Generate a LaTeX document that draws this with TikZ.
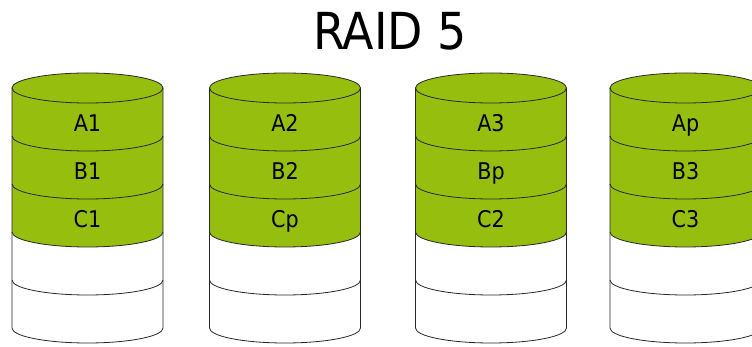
\documentclass[tikz,border=0pt]{standalone}
\usepackage{fontspec}
\setmainfont{DejaVu Sans Condensed}
\definecolor{diskgreen}{RGB}{150,190,14}
\definecolor{rimline}{RGB}{40,40,40}
\tikzset{
  rim/.style={draw=rimline, line width=0.8pt},
  blocklabel/.style={anchor=base, font=\fontsize{23}{23}\selectfont, text=black, inner sep=0pt},
  titletext/.style={anchor=base, font=\fontsize{51}{51}\selectfont, text=black, inner sep=0pt}
}
\begin{document}
\begin{tikzpicture}[x=1pt,y=1pt]
\useasboundingbox (0,0) rectangle (752,347);
\node[titletext] (title) at (390,297) {RAID 5};
% one disk per column: left edge, then the three block labels from top to bottom
\foreach \xl/\la/\lb/\lc [count=\i] in {12/A1/B1/C1, 209.5/A2/B2/Cp, 415.5/A3/Bp/C2, 610/Ap/B3/C3}{
  \pgfmathsetmacro{\rx}{75.5}
  \pgfmathsetmacro{\ry}{15}
  \pgfmathsetmacro{\xr}{\xl+2*\rx}
  \pgfmathsetmacro{\cx}{\xl+\rx}
  % green stripe section (three blocks)
  \fill[diskgreen] (\xl,259) -- (\xl,115)
     arc[start angle=180, end angle=360, x radius=\rx, y radius=\ry]
     -- (\xr,259)
     arc[start angle=0, end angle=180, x radius=\rx, y radius=\ry] -- cycle;
  % body outline
  \draw[rim] (\xl,259) -- (\xl,19)
     arc[start angle=180, end angle=360, x radius=\rx, y radius=\ry]
     -- (\xr,259);
  \draw[rim] (\cx,259) ellipse[x radius=\rx, y radius=\ry];
  \foreach \yb in {211,163,115,67}{
    \draw[rim] (\xl,\yb) arc[start angle=180, end angle=360, x radius=\rx, y radius=\ry];
  }
  \node[blocklabel] (d\i a) at (\cx,215) {\la};
  \node[blocklabel] (d\i b) at (\cx,167) {\lb};
  \node[blocklabel] (d\i c) at (\cx,119) {\lc};
}
\end{tikzpicture}
\end{document}
